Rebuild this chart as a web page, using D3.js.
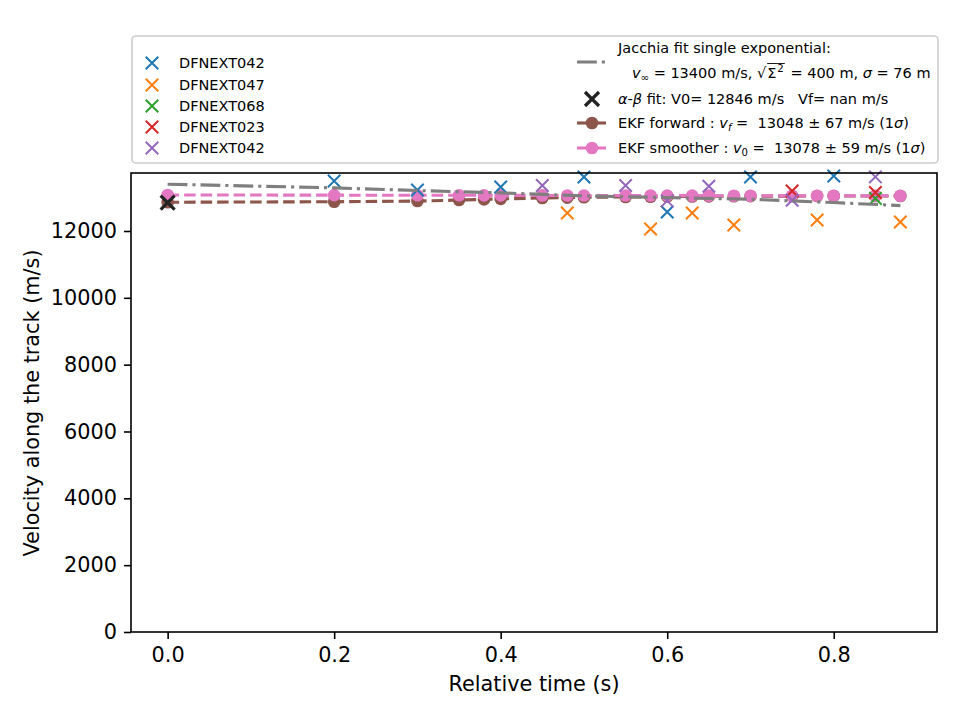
<!DOCTYPE html>
<html lang="en">
  <head>
    <meta charset="UTF-8">
    <title>Velocity along the track</title>
    <script src="https://d3js.org/d3.v7.min.js"></script>
    <style>
      body {
        margin: 0;
        padding: 0;
        background-color: #fff;
      }
      svg text {
        font-family: 'DejaVu Sans', sans-serif;
        white-space: pre;
        fill: #000;
      }
      .axis path,
      .axis line {
        stroke: #000;
        stroke-width: 1.6;
      }
      .axis text {
        font-size: 20.8px;
      }
    </style>
  </head>
  <body>
    <script>
      // observations per station (time s, velocity m/s)
      const stations = ["DFNEXT042", "DFNEXT047", "DFNEXT068", "DFNEXT023", "DFNEXT042"];
      const stationColors = ["#1f77b4", "#ff7f0e", "#2ca02c", "#d62728", "#9467bd"];
      const obsT = [
        [0.2, 0.3, 0.4, 0.5, 0.6, 0.7, 0.8],
        [0.48, 0.58, 0.63, 0.68, 0.78, 0.88],
        [0.85],
        [0.75, 0.85],
        [0.45, 0.55, 0.6, 0.65, 0.75, 0.85]
      ];
      const obsV = [
        [13495, 13226, 13316, 13615, 12567, 13615, 13645],
        [12537, 12059, 12537, 12178, 12328, 12268],
        [12970],
        [13196, 13150],
        [13360, 13360, 12900, 13340, 12920, 13620]
      ];

      // EKF forward / smoother
      const ekfT = [0, 0.2, 0.3, 0.35, 0.38, 0.4, 0.45, 0.48, 0.5, 0.55, 0.58, 0.6, 0.63, 0.65, 0.68, 0.7, 0.75, 0.78, 0.8, 0.85, 0.88];
      const fwdV = [12860, 12875, 12895, 12925, 12945, 12960, 12985, 12998, 13008, 13018, 13024, 13029, 13034, 13037, 13040, 13042, 13044, 13045, 13046, 13047, 13048];
      const smoV = [13078, 13072, 13068, 13070, 13066, 13066, 13064, 13062, 13062, 13060, 13060, 13058, 13058, 13057, 13056, 13056, 13055, 13055, 13054, 13053, 13052];

      // Jacchia single exponential fit
      const jacT = [0, 0.2, 0.3, 0.4, 0.5, 0.6, 0.7, 0.75, 0.8, 0.88];
      const jacV = [13400, 13290, 13210, 13140, 13050, 13000, 12950, 12900, 12850, 12760];

      // alpha-beta fit
      const abT = [0];
      const abV = [12846];

      const xTicks = [0.0, 0.2, 0.4, 0.6, 0.8];
      const yTicks = [0, 2000, 4000, 6000, 8000, 10000, 12000];

      const W = 960, H = 720;
      const mL = 131, mR = 937, mT = 173, mB = 632;

      const svg = d3.select("body").append("svg").attr("width", W).attr("height", H);

      const x = d3.scaleLinear().domain([-0.044, 0.924]).range([mL, mR]);
      const y = d3.scaleLinear().domain([0, 13735]).range([mB, mT]);

      const plot = svg.append("g");

      function crosses(g, pts, color, size, sw) {
        const s = size / 2;
        pts.forEach(p => {
          g.append("path")
            .attr("d", `M${p[0] - s},${p[1] - s}L${p[0] + s},${p[1] + s}M${p[0] - s},${p[1] + s}L${p[0] + s},${p[1] - s}`)
            .attr("stroke", color).attr("stroke-width", sw).attr("fill", "none");
        });
      }

      function lineSeries(g, ts, vs, color, dash, marker) {
        const pts = ts.map((t, i) => [x(t), y(vs[i])]);
        g.append("path").attr("d", d3.line()(pts)).attr("fill", "none")
          .attr("stroke", color).attr("stroke-width", 3.1).attr("stroke-dasharray", dash);
        if (marker) {
          g.selectAll(null).data(pts).enter().append("circle")
            .attr("cx", d => d[0]).attr("cy", d => d[1]).attr("r", 6.3).attr("fill", color);
        }
      }

      // EKF forward and smoother
      lineSeries(plot, ekfT, fwdV, "#8c564b", "11.5,5", true);
      lineSeries(plot, ekfT, smoV, "#e377c2", "11.5,5", true);

      // station observations
      obsT.forEach((ts, k) => {
        crosses(plot, ts.map((t, i) => [x(t), y(obsV[k][i])]), stationColors[k], 12.5, 2);
      });

      // Jacchia
      lineSeries(plot, jacT, jacV, "#7f7f7f", "19.8,5,3.1,5", false);

      // alpha-beta
      crosses(plot, abT.map((t, i) => [x(t), y(abV[i])]), "#222", 14, 3.2);

      // frame
      svg.append("rect").attr("x", mL).attr("y", mT).attr("width", mR - mL).attr("height", mB - mT)
        .attr("fill", "none").attr("stroke", "#000").attr("stroke-width", 1.6);

      svg.append("g").attr("class", "axis").attr("transform", `translate(0,${mB})`)
        .call(d3.axisBottom(x).tickValues(xTicks).tickFormat(d3.format(".1f")).tickSize(7).tickPadding(8))
        .call(g => g.select(".domain").remove());
      svg.append("g").attr("class", "axis").attr("transform", `translate(${mL},0)`)
        .call(d3.axisLeft(y).tickValues(yTicks).tickFormat(d3.format("d")).tickSize(7).tickPadding(7))
        .call(g => g.select(".domain").remove());
      svg.selectAll(".axis text").attr("font-family", "DejaVu Sans");

      svg.append("text").attr("x", 534).attr("y", 691).attr("text-anchor", "middle")
        .attr("font-size", 20.8).text("Relative time (s)");
      svg.append("text").attr("transform", "translate(39,403) rotate(-90)").attr("text-anchor", "middle")
        .attr("font-size", 20.8).text("Velocity along the track (m/s)");

      // legend
      const FS = 14.5;
      const leg = svg.append("g");
      leg.append("rect").attr("x", 132).attr("y", 36).attr("width", 806).attr("height", 127).attr("rx", 4)
        .attr("fill", "#fff").attr("fill-opacity", 0.8).attr("stroke", "#cccccc").attr("stroke-width", 1.6);

      const leftRows = [63, 85, 106, 127, 148];
      stations.forEach((name, k) => {
        crosses(leg, [[152, leftRows[k]]], stationColors[k], 12.5, 2);
        leg.append("text").attr("x", 179).attr("y", leftRows[k] + 5).attr("font-size", FS).text(name);
      });

      function richText(g, x0, yb, segs) {
        let cx = x0;
        segs.forEach(s => {
          const fs = (s.sub || s.sup) ? FS * 0.7 : FS;
          const dy = s.sub ? FS * 0.22 : s.sup ? -FS * 0.42 : 0;
          cx += s.pad || 0;
          const t = g.append("text").attr("x", cx).attr("y", yb + dy).attr("font-size", fs)
            .attr("font-style", s.it ? "italic" : "normal").text(s.t);
          const w = t.node().getComputedTextLength();
          if (s.over) {
            g.append("line").attr("x1", cx).attr("x2", cx + w + 1).attr("y1", yb - FS * 1.0).attr("y2", yb - FS * 1.0)
              .attr("stroke", "#000").attr("stroke-width", 0.9);
          }
          cx += w;
        });
      }

      // Jacchia handle
      leg.append("line").attr("x1", 577).attr("x2", 606).attr("y1", 62).attr("y2", 62)
        .attr("stroke", "#7f7f7f").attr("stroke-width", 3.1).attr("stroke-dasharray", "19.8,5,3.1,5");
      richText(leg, 618, 53, [{ t: "Jacchia fit single exponential:" }]);
      richText(leg, 632, 78, [
        { t: "v", it: true }, { t: "∞", sub: true }, { t: " = 13400 m/s, " },
        { t: "√" }, { t: "Σ", over: true, pad: 1 }, { t: "2", sup: true, over: true, pad: 1 },
        { t: " = 400 m, ", pad: 2 }, { t: "σ", it: true }, { t: " = 76 m" }
      ]);

      // alpha-beta handle
      crosses(leg, [[592, 99]], "#222", 14, 3.2);
      richText(leg, 618, 104, [
        { t: "α", it: true }, { t: "-" }, { t: "β", it: true }, { t: " fit: V0= 12846 m/s   Vf= nan m/s" }
      ]);

      // EKF handles
      [[123, "#8c564b"], [148, "#e377c2"]].forEach(([yy, c]) => {
        leg.append("line").attr("x1", 577).attr("x2", 606).attr("y1", yy).attr("y2", yy)
          .attr("stroke", c).attr("stroke-width", 3.1);
        leg.append("circle").attr("cx", 592).attr("cy", yy).attr("r", 6.3).attr("fill", c);
      });
      richText(leg, 618, 128, [
        { t: "EKF forward : " }, { t: "v", it: true }, { t: "f", it: true, sub: true },
        { t: " =  13048 ± 67 m/s (1" }, { t: "σ", it: true }, { t: ")" }
      ]);
      richText(leg, 618, 153, [
        { t: "EKF smoother : " }, { t: "v", it: true }, { t: "0", sub: true },
        { t: " =  13078 ± 59 m/s (1" }, { t: "σ", it: true }, { t: ")" }
      ]);
    </script>
  </body>
</html>
